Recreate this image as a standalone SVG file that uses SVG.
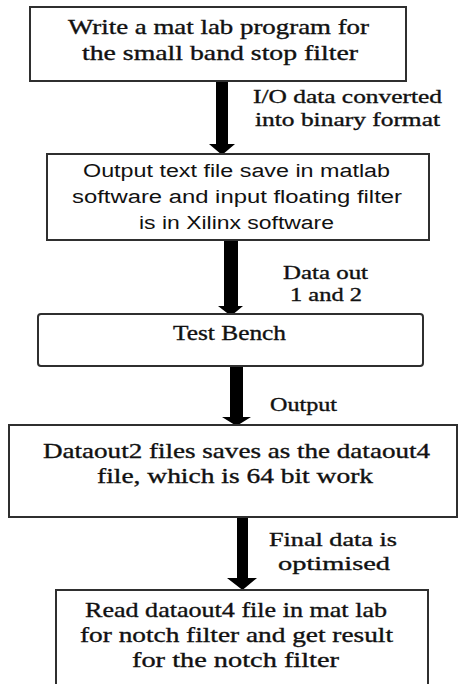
<svg xmlns="http://www.w3.org/2000/svg" width="459" height="684" viewBox="0 0 459 684">
<style>
.box{fill:#fff;stroke:#2f2f2f;stroke-width:2}
.serif{font-family:"Liberation Serif","Times New Roman",serif;font-size:21px;fill:#111;stroke:#111;stroke-width:0.35;text-anchor:middle}
.lbl{font-size:19px}
.sans{font-family:"Liberation Sans",Arial,sans-serif;font-size:18px;fill:#111;text-anchor:middle}
.arrow{fill:#000}
</style>
<rect width="459" height="684" fill="#fff"/>
<g id="connectors">
<polygon class="arrow" points="216,81 228,81 228,144 235,144 222,155 209,144 216,144"/>
<polygon class="arrow" points="224,240 238,240 238,306 243,306 231,316 218,306 224,306"/>
<polygon class="arrow" points="230,366 243,366 243,417 251,417 236.5,426 222,417 230,417"/>
<polygon class="arrow" points="237,517 248,517 248,578 257,578 242.5,590 227,578 237,578"/>
<text class="serif lbl" x="347.5" y="103" textLength="189" lengthAdjust="spacingAndGlyphs">I/O data converted</text>
<text class="serif lbl" x="347.5" y="126" textLength="185" lengthAdjust="spacingAndGlyphs">into binary format</text>
<text class="serif lbl" x="325.5" y="279" textLength="85" lengthAdjust="spacingAndGlyphs">Data out</text>
<text class="serif lbl" x="326" y="301" textLength="72" lengthAdjust="spacingAndGlyphs">1 and 2</text>
<text class="serif lbl" x="303.5" y="411" textLength="67" lengthAdjust="spacingAndGlyphs">Output</text>
<text class="serif lbl" x="333" y="546" textLength="128" lengthAdjust="spacingAndGlyphs">Final data is</text>
<text class="serif lbl" x="334" y="570" textLength="112" lengthAdjust="spacingAndGlyphs">optimised</text>
</g>
<g id="node1">
<rect class="box" x="30" y="7" width="376" height="74"/>
<text class="serif" x="218.5" y="34" textLength="301" lengthAdjust="spacingAndGlyphs">Write a mat lab program for</text>
<text class="serif" x="220" y="60" textLength="276" lengthAdjust="spacingAndGlyphs">the small band stop filter</text>
</g>
<g id="node2">
<rect class="box" x="47" y="154" width="382" height="86"/>
<text class="sans" x="236.5" y="177" textLength="307" lengthAdjust="spacingAndGlyphs">Output text file save in matlab</text>
<text class="sans" x="237" y="203" textLength="330" lengthAdjust="spacingAndGlyphs">software and input floating filter</text>
<text class="sans" x="236.5" y="229" textLength="195" lengthAdjust="spacingAndGlyphs">is in Xilinx software</text>
</g>
<g id="node3">
<rect class="box" x="38" y="314" width="385" height="52" rx="3"/>
<text class="serif" x="229.5" y="340" textLength="113" lengthAdjust="spacingAndGlyphs">Test Bench</text>
</g>
<g id="node4">
<rect class="box" x="9" y="425" width="448" height="92"/>
<text class="serif" x="236.5" y="458" textLength="387" lengthAdjust="spacingAndGlyphs">Dataout2 files saves as the dataout4</text>
<text class="serif" x="235" y="483" textLength="276" lengthAdjust="spacingAndGlyphs">file, which is 64 bit work</text>
</g>
<g id="node5">
<rect class="box" x="56" y="590" width="372" height="110"/>
<text class="serif" x="236" y="617" textLength="302" lengthAdjust="spacingAndGlyphs">Read dataout4 file in mat lab</text>
<text class="serif" x="236.5" y="642" textLength="313" lengthAdjust="spacingAndGlyphs">for notch filter and get result</text>
<text class="serif" x="235.5" y="667" textLength="207" lengthAdjust="spacingAndGlyphs">for the notch filter</text>
</g>
</svg>
